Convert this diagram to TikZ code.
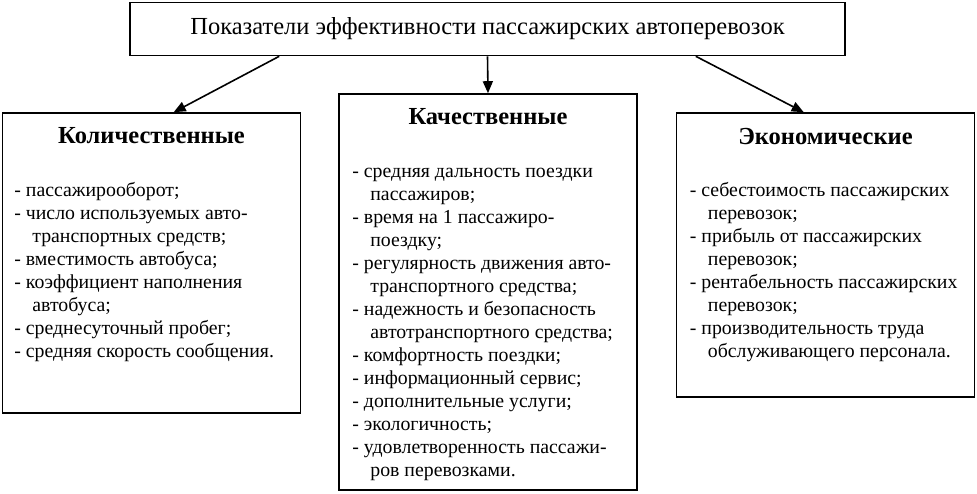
\documentclass[tikz,border=0pt]{standalone}
\usepackage{fontspec}
\setmainfont{Liberation Serif}
\usetikzlibrary{arrows.meta,positioning}
\newcommand{\wrapind}{\hspace*{18pt}}

\begin{document}
\begin{tikzpicture}[x=1pt,y=-1pt,
box/.style={draw,line width=1.6pt,minimum width=298pt,inner sep=0pt},
head/.style={font=\fontsize{24.5}{28}\selectfont\bfseries,anchor=north,inner sep=0pt},
list/.style={font=\fontsize{19.8}{23}\selectfont,align=left,anchor=north west,inner sep=0pt},
arr/.style={-{Triangle[length=12pt,width=10pt]},line width=1.6pt}]
\useasboundingbox (0,0) rectangle (977,493);
% top
\node[draw,line width=1.6pt,minimum width=715pt,minimum height=53pt,
  font=\fontsize{24.5}{28}\selectfont] (title) at (487.5,29)
  {Показатели эффективности пассажирских автоперевозок};
% three groups
\node[box,minimum height=300pt] (quant) at (151.5,263) {};
\node[box,minimum height=396pt] (qual) at (488,292) {};
\node[box,minimum height=284pt] (econ) at (825.5,255) {};
\node[head] (quanthead) at ([yshift=-15pt]quant.north) {Количественные};
\node[head] (qualhead) at ([yshift=-15pt]qual.north) {Качественные};
\node[head] (econhead) at ([yshift=-16pt]econ.north) {Экономические};
\node[list] (quantlist) at ([xshift=12.5pt,yshift=-70pt]quant.north west)
  {- пассажирооборот;\\
   - число используемых авто-\\
   \wrapind транспортных средств;\\
   - вместимость автобуса;\\
   - коэффициент наполнения\\
   \wrapind автобуса;\\
   - среднесуточный пробег;\\
   - средняя скорость сообщения.};
\node[list] (quallist) at ([xshift=14pt,yshift=-75pt]qual.north west)
  {- средняя дальность поездки\\
   \wrapind пассажиров;\\
   - время на 1 пассажиро-\\
   \wrapind поездку;\\
   - регулярность движения авто-\\
   \wrapind транспортного средства;\\
   - надежность и безопасность\\
   \wrapind автотранспортного средства;\\
   - комфортность поездки;\\
   - информационный сервис;\\
   - дополнительные услуги;\\
   - экологичность;\\
   - удовлетворенность пассажи-\\
   \wrapind ров перевозками.};
\node[list] (econlist) at ([xshift=14pt,yshift=-70pt]econ.north west)
  {- себестоимость пассажирских\\
   \wrapind перевозок;\\
   - прибыль от пассажирских\\
   \wrapind перевозок;\\
   - рентабельность пассажирских\\
   \wrapind перевозок;\\
   - производительность труда\\
   \wrapind обслуживающего персонала.};
\draw[arr] ([xshift=150pt]title.south west)--([xshift=172pt]quant.north west);
\draw[arr] (title.south)--(qual.north);
\draw[arr] ([xshift=-150pt]title.south east)--([xshift=128pt]econ.north west);
\end{tikzpicture}
\end{document}
